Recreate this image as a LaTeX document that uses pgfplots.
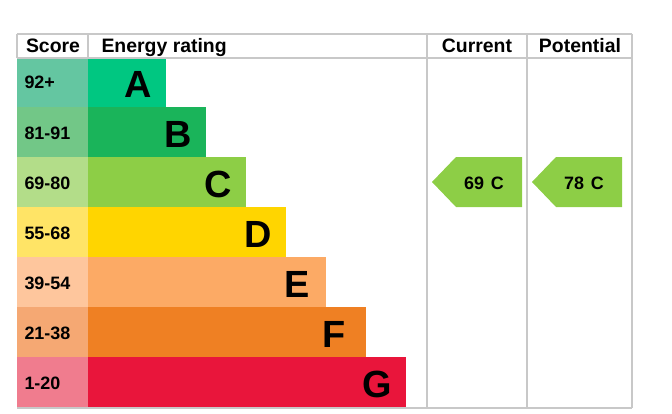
\documentclass[border=0pt]{standalone}
\usepackage{fontspec}
\setmainfont{Liberation Sans}
\usepackage{pgfplots}
\pgfplotsset{compat=1.18}

\definecolor{sA}{HTML}{64C6A1}\definecolor{bA}{HTML}{00C781}
\definecolor{sB}{HTML}{72C787}\definecolor{bB}{HTML}{1AB45A}
\definecolor{sC}{HTML}{B3DD89}\definecolor{bC}{HTML}{8DCE46}
\definecolor{sD}{HTML}{FFE466}\definecolor{bD}{HTML}{FFD500}
\definecolor{sE}{HTML}{FEC69D}\definecolor{bE}{HTML}{FCAA65}
\definecolor{sF}{HTML}{F5A873}\definecolor{bF}{HTML}{EF8023}
\definecolor{sG}{HTML}{F07C8E}\definecolor{bG}{HTML}{E9153B}
\definecolor{linegray}{HTML}{C8C8C8}

\tikzset{
  hdr/.style={font=\bfseries\fontsize{19.5}{19.5}\selectfont},
  score/.style={font=\bfseries\fontsize{18}{18}\selectfont, anchor=base west},
  band/.style={font=\bfseries\fontsize{38}{38}\selectfont, anchor=base east, inner sep=0pt},
  rating/.style={font=\bfseries\fontsize{18}{18}\selectfont, anchor=base},
  tline/.style={draw=linegray, line width=1.3bp},
}

\begin{document}
\begin{tikzpicture}
\begin{axis}[
    width=672bp, height=414bp, scale only axis,
    xmin=0, xmax=672, ymin=0, ymax=414, y dir=reverse,
    hide axis, clip=false,
]
\path (axis cs:0,0) rectangle (axis cs:672,414);

% score cells and bars
\addplot[fill=sA, draw=none] coordinates {(17,58)(88,58)(88,107)(17,107)} -- cycle;
\addplot[fill=bA, draw=none] coordinates {(88,58)(166,58)(166,107)(88,107)} -- cycle;
\addplot[fill=sB, draw=none] coordinates {(17,107)(88,107)(88,157)(17,157)} -- cycle;
\addplot[fill=bB, draw=none] coordinates {(88,107)(206,107)(206,157)(88,157)} -- cycle;
\addplot[fill=sC, draw=none] coordinates {(17,157)(88,157)(88,207)(17,207)} -- cycle;
\addplot[fill=bC, draw=none] coordinates {(88,157)(246,157)(246,207)(88,207)} -- cycle;
\addplot[fill=sD, draw=none] coordinates {(17,207)(88,207)(88,257)(17,257)} -- cycle;
\addplot[fill=bD, draw=none] coordinates {(88,207)(286,207)(286,257)(88,257)} -- cycle;
\addplot[fill=sE, draw=none] coordinates {(17,257)(88,257)(88,307)(17,307)} -- cycle;
\addplot[fill=bE, draw=none] coordinates {(88,257)(326,257)(326,307)(88,307)} -- cycle;
\addplot[fill=sF, draw=none] coordinates {(17,307)(88,307)(88,357)(17,357)} -- cycle;
\addplot[fill=bF, draw=none] coordinates {(88,307)(366,307)(366,357)(88,357)} -- cycle;
\addplot[fill=sG, draw=none] coordinates {(17,357)(88,357)(88,407)(17,407)} -- cycle;
\addplot[fill=bG, draw=none] coordinates {(88,357)(406,357)(406,407)(88,407)} -- cycle;

% table lines
\addplot[tline] coordinates {(17,34)(632,34)};
\addplot[tline] coordinates {(17,58)(632,58)};
\addplot[tline] coordinates {(17,408)(632,408)};
\addplot[tline] coordinates {(17,34)(17,58)};
\addplot[tline] coordinates {(88,34)(88,58)};
\addplot[tline] coordinates {(427,34)(427,408)};
\addplot[tline] coordinates {(527,34)(527,408)};
\addplot[tline] coordinates {(632,34)(632,408)};

% current and potential arrows
\addplot[fill=bC, draw=none] coordinates {(432,182)(456,157)(522,157)(522,207)(456,207)} -- cycle;
\addplot[fill=bC, draw=none] coordinates {(532,182)(556,157)(622,157)(622,207)(556,207)} -- cycle;

% header
\node[hdr, anchor=base] at (axis cs:53,53) {Score};
\node[hdr, anchor=base west] at (axis cs:98,53) {Energy rating};
\node[hdr, anchor=base] at (axis cs:477,53) {Current};
\node[hdr, anchor=base] at (axis cs:580,53) {Potential};

% score labels
\node[score] at (axis cs:21,89) {92+};
\node[score] at (axis cs:21,139) {81-91};
\node[score] at (axis cs:21,189) {69-80};
\node[score] at (axis cs:21,239) {55-68};
\node[score] at (axis cs:21,289) {39-54};
\node[score] at (axis cs:21,339) {21-38};
\node[score] at (axis cs:21,389) {1-20};

% band letters
\node[band] at (axis cs:152,97) {A};
\node[band] at (axis cs:192,147) {B};
\node[band] at (axis cs:232,197) {C};
\node[band] at (axis cs:272,247) {D};
\node[band] at (axis cs:310,297) {E};
\node[band] at (axis cs:346,347) {F};
\node[band] at (axis cs:392,397) {G};

% ratings
\node[rating] at (axis cs:484,189) {69\hspace{7bp}C};
\node[rating] at (axis cs:584,189) {78\hspace{7bp}C};
\end{axis}
\end{tikzpicture}
\end{document}
